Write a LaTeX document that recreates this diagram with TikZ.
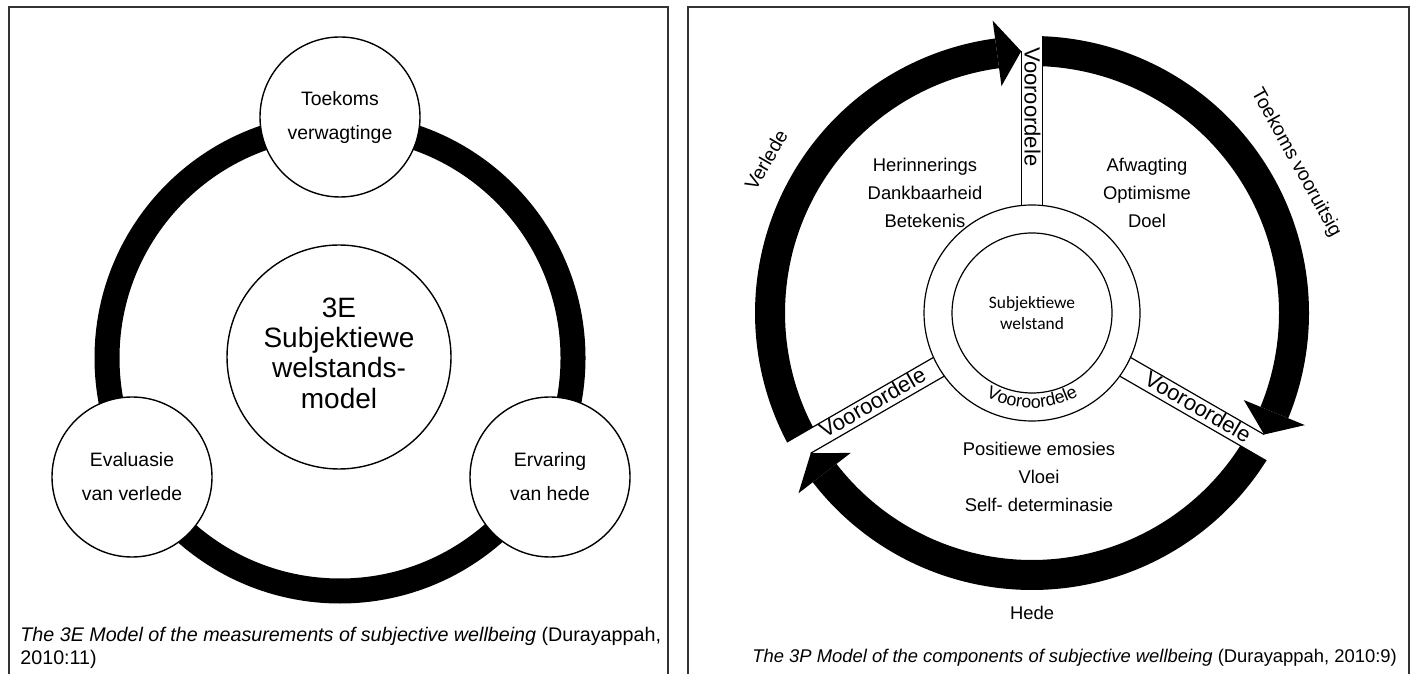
\documentclass[tikz,border=0pt]{standalone}
\usepackage{fontspec}
\setmainfont{Liberation Sans}
\newfontfamily\calib{Carlito}
\usetikzlibrary{decorations.text}
\newcommand\fsz[2]{\fontsize{#1}{#2}\selectfont}
\begin{document}
\begin{tikzpicture}[x=0.5pt,y=0.5pt,
  frame/.style={draw=black!80, line width=0.7pt},
  bubble/.style={circle, draw, line width=0.7pt, fill=white, minimum size=80pt,
    inner sep=0pt, align=center, font=\fsz{9.7pt}{17pt}},
  hub/.style={circle, draw, line width=0.7pt, fill=white, minimum size=112pt, inner sep=0pt},
  hubtext/.style={inner sep=0pt, align=center, font=\fsz{14pt}{15.2pt}},
  capleft/.style={inner sep=0pt, font=\fsz{9.85pt}{11.5pt}},
  capright/.style={inner sep=0pt, font=\fsz{9.2pt}{11.5pt}},
  sector/.style={inner sep=0pt, align=center, font=\fsz{9.2pt}{14pt}},
  arrowname/.style={inner sep=0pt, font=\fsz{9.7pt}{12pt}},
  barlabel/.style={inner sep=0pt, anchor=base, font=\fsz{11pt}{12pt}},
  ring/.style={line width=0.6pt},
]
\useasboundingbox (0,0) rectangle (1416,674);

% ---------------- 3E model ----------------
\draw[frame] (9,0) -- (9,667) -- (668,667) -- (668,0);
\draw[line width=12.5pt] (340,316) circle[radius=233];
\node[hub] (hub) at (339,317) {};
\node[hubtext] (hubTxt) at (339,321) {3E\\Subjektiewe\\welstands-\\model};
\node[bubble] (future) at (340,557) {Toekoms\\verwagtinge};
\node[bubble] (past) at (132,197) {Evaluasie\\van verlede};
\node[bubble] (present) at (550,197) {Ervaring\\van hede};
\node[capleft, anchor=base west] (capA) at (20,33)
  {\textit{The 3E Model of the measurements of subjective wellbeing} (Durayappah,};
\node[capleft, anchor=base west] (capB) at (20,10) {2010:11)};

% ---------------- 3P model ----------------
\draw[frame] (688,0) -- (688,667) -- (1409,667) -- (1409,0);
\begin{scope}[shift={(1032,361)}]
  % spokes from the core to the outer arrows
  \foreach \t in {90,210,330} {
    \begin{scope}[rotate=\t]
      \draw[ring] (107.46,10.8) -- (261.78,10.8);
      \draw[ring] (107.46,-10.8) -- (276.8,-10.8);
    \end{scope}
  }
  % three arrows of the time cycle
  \foreach \ta in {210,90,-30} {
    \pgfmathsetmacro\ai{\ta-2.506}
    \pgfmathsetmacro\ao{\ta-2.235}
    \pgfmathsetmacro\at{\ta-120+2.362}
    \pgfmathsetmacro\ab{\at+5.3}
    \fill (\ai:247) -- (\ao:277) arc[start angle=\ao, end angle=\ab, radius=277]
      -- (\ab:247) arc[start angle=\ab, end angle=\ai, radius=247] -- cycle;
    \fill (\ab:295) -- (\at:262) -- (\ab:229) -- cycle;
  }
  % core
  \node[circle, draw, ring, fill=white, minimum size=108pt, inner sep=0pt] (core) at (0,0) {};
  \node[circle, draw, ring, fill=white, minimum size=80pt, inner sep=0pt, align=center,
    font=\calib\fsz{8.7pt}{10.85pt}] (sw) at (0,0) {Subjektiewe\\welstand};
  \path[decorate, decoration={text along path, text align=center,
    text={|\fsz{8.9pt}{10pt}|Vooroordele}}]
    (232:95) arc[start angle=232, end angle=308, radius=95];
  % spoke labels
  \begin{scope}[rotate=90]
    \node[barlabel, rotate=-90] (vTop) at (206,7.5) {Vooroordele};
  \end{scope}
  \begin{scope}[rotate=210]
    \node[barlabel, rotate=30] (vLeft) at (183,5.5) {Vooroordele};
  \end{scope}
  \begin{scope}[rotate=330]
    \node[barlabel, rotate=-30] (vRight) at (190.7,-6) {Vooroordele};
  \end{scope}
  % sector texts
  \node[sector] (pastTxt) at (-107,120.3) {Herinnerings\\Dankbaarheid\\Betekenis};
  \node[sector] (futTxt) at (115,120.3) {Afwagting\\Optimisme\\Doel};
  \node[sector] (nowTxt) at (7,-163.7) {Positiewe emosies\\Vloei\\Self- determinasie};
  % arrow names
  \node[arrowname, rotate=60] (verlede) at (-266,153) {Verlede};
  \node[arrowname, rotate=-61] (toekoms) at (264,150) {Toekoms vooruitsig};
  \node[arrowname, anchor=base, font=\fsz{9.2pt}{12pt}] (hede) at (0,-306) {Hede};
\end{scope}
\node[capright, anchor=base west] (capC) at (752,12)
  {\textit{The 3P Model of the components of subjective wellbeing} (Durayappah, 2010:9)};
\end{tikzpicture}
\end{document}
